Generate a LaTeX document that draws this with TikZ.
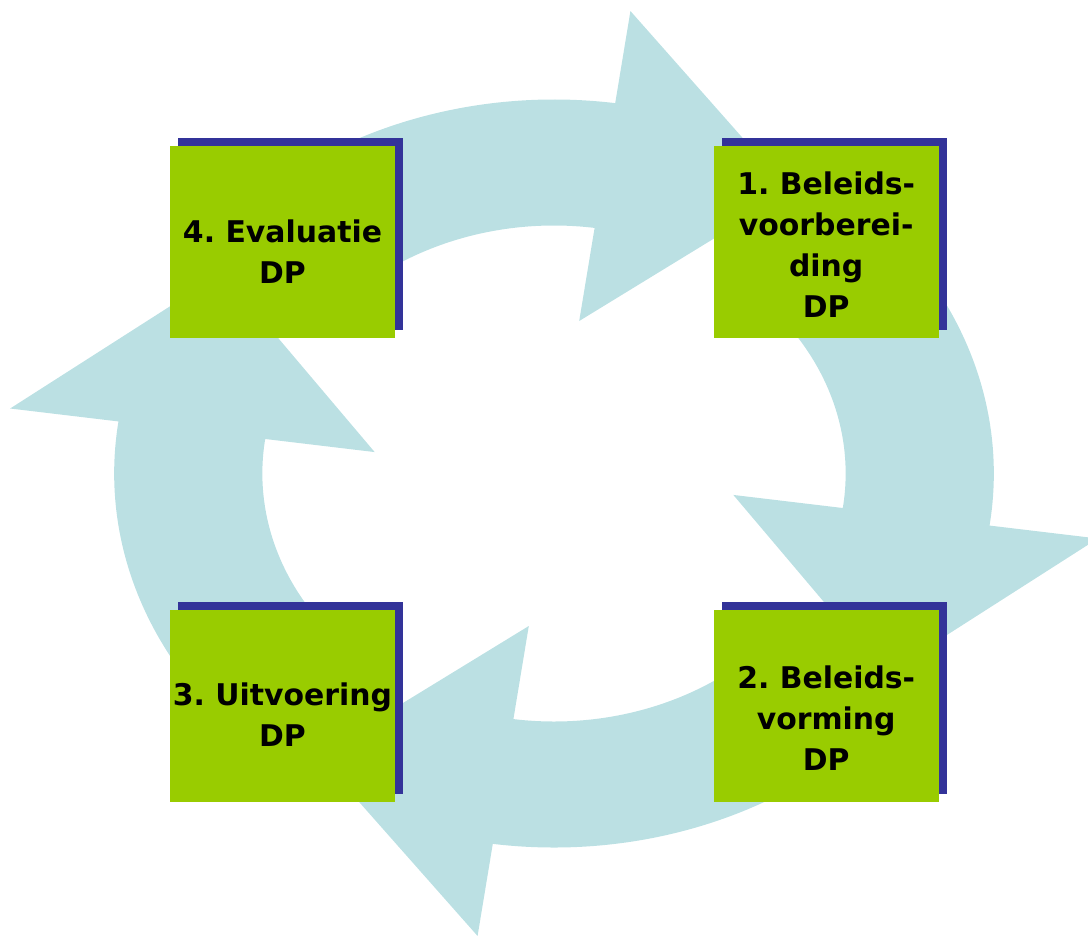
\documentclass[tikz,border=0pt]{standalone}
\usepackage{fontspec}
\setmainfont{DejaVu Sans}
\usetikzlibrary{positioning,shadows}
\definecolor{ringblue}{RGB}{187,224,227}
\definecolor{boxgreen}{RGB}{153,204,0}
\definecolor{shadowblue}{RGB}{51,51,153}
\frenchspacing

\begin{document}
\begin{tikzpicture}[node distance=5.42cm and 6.36cm,
  box/.style={fill=boxgreen, minimum width=4.5cm, minimum height=3.84cm, inner sep=0pt,
    drop shadow={shadow xshift=0.16cm, shadow yshift=0.16cm, fill=shadowblue, opacity=1}},
  lbl/.style={align=center, inner sep=0pt, font=\bfseries\fontsize{17}{23.3}\selectfont},
  ring/.style={fill=ringblue}]
  \useasboundingbox (0,0) rectangle (21.76,-18.76);
  \clip (0,0) rectangle (21.76,-18.76);
  \begin{scope}[shift={(11.08,-9.47)}, xscale=1.176]
    \foreach \b in {82,-8,-98,172}
      \fill[ring] ({\b+62}:7.48) arc[start angle=\b+62, end angle=\b, radius=7.48]
        -- (\b:9.34) -- ({\b-27.5}:6.92) -- (\b:3.08) -- (\b:4.96)
        arc[start angle=\b, end angle=\b+62, radius=4.96] -- cycle;
  \end{scope}
  \node[box] (b4) at (5.65,-4.84) {};
  \node[box] (b1) [right=of b4] {};
  \node[box] (b2) [below=of b1] {};
  \node[box] (b3) [below=of b4] {};
  \node[lbl] (t1) at ([yshift=-0.05cm]b1.center) {1. Beleids-\\voorberei-\\ding\\DP};
  \node[lbl] (t2) at ([yshift=-0.24cm]b2.center) {2. Beleids-\\vorming\\DP};
  \node[lbl] (t3) at ([yshift=-0.18cm]b3.center) {3. Uitvoering\\DP};
  \node[lbl] (t4) at ([yshift=-0.19cm]b4.center) {4. Evaluatie\\DP};
\end{tikzpicture}
\end{document}
